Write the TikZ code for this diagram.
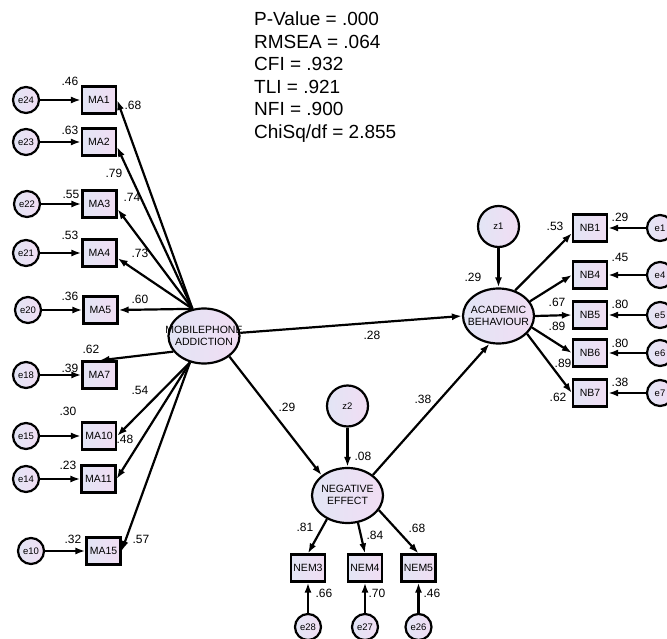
\documentclass[tikz,border=0pt]{standalone}
\usepackage{fontspec}
\setmainfont{Liberation Sans}
\usetikzlibrary{arrows.meta, shapes.geometric}
\definecolor{lavl}{RGB}{226,229,245}
\definecolor{lavr}{RGB}{241,221,243}
\newcommand{\twoline}[2]{\smash{\raisebox{-3.5pt}{\makebox[0pt]{%
  \begin{tabular}{@{}c@{}}#1\\#2\end{tabular}}}}}

\begin{document}
\begin{tikzpicture}[x=1pt, y=-1pt,
    obs/.style={draw, line width=2.2pt, minimum width=34pt, minimum height=27pt,
      inner sep=0pt, left color=lavl, right color=lavr,
      font=\fontsize{10.5}{12}\selectfont},
    err/.style={draw, line width=2.2pt, circle, minimum size=26pt, inner sep=0pt,
      left color=lavl, right color=lavr, font=\fontsize{9.5}{11}\selectfont},
    res/.style={err, minimum size=41pt},
    lat/.style={draw, line width=2.2pt, ellipse, minimum width=71pt,
      minimum height=55pt, inner sep=0pt, left color=lavl, right color=lavr,
      font=\fontsize{10.5}{12}\selectfont},
    num/.style={inner sep=0pt, font=\fontsize{12}{14}\selectfont},
    gof/.style={inner sep=0pt, align=left, font=\fontsize{19}{22.5}\selectfont},
    arr/.style={-{Latex[length=10pt, width=7pt]}, line width=2.2pt}]
  \useasboundingbox (0,0) rectangle (667,639);
  \node[gof, anchor=north west] (gof) at (254,12) {P-Value = .000\\RMSEA = .064\\
    CFI = .932\\TLI = .921\\NFI = .900\\ChiSq/df = 2.855};
  % latent variables
  \node[lat] (mpa) at (204,336) {\twoline{MOBILEPHONE}{ADDICTION}};
  \node[lat] (acb) at (498.5,316) {\twoline{ACADEMIC}{BEHAVIOUR}};
  \node[lat] (neg) at (347.5,495.5) {\twoline{NEGATIVE}{EFFECT}};
  \node[res] (z1) at (498.5,226.5) {z1};
  \node[res] (z2) at (347.5,406) {z2};
  % mobilephone addiction items
  \node[err] (e24) at (26,100) {e24};
  \node[err] (e23) at (26,142) {e23};
  \node[err] (e22) at (27,204) {e22};
  \node[err] (e21) at (26,253) {e21};
  \node[err] (e20) at (28,310) {e20};
  \node[err] (e18) at (26,375) {e18};
  \node[err] (e15) at (26,436) {e15};
  \node[err] (e14) at (26,479) {e14};
  \node[err] (e10) at (31,551) {e10};
  \node[obs] (ma1) at (99,100) {MA1};
  \node[obs] (ma2) at (99,142) {MA2};
  \node[obs] (ma3) at (99.5,204) {MA3};
  \node[obs] (ma4) at (99.5,253) {MA4};
  \node[obs] (ma5) at (100.5,310) {MA5};
  \node[obs] (ma7) at (99.5,375) {MA7};
  \node[obs] (ma10) at (99,436) {MA10};
  \node[obs] (ma11) at (98.5,479) {MA11};
  \node[obs] (ma15) at (103.5,551) {MA15};
  % academic behaviour items
  \node[obs] (nb1) at (590,228) {NB1};
  \node[obs] (nb4) at (590,275) {NB4};
  \node[obs] (nb5) at (590,315) {NB5};
  \node[obs] (nb6) at (590,353) {NB6};
  \node[obs] (nb7) at (590,393) {NB7};
  \node[err] (e1) at (660,228) {e1};
  \node[err] (e4) at (660,275) {e4};
  \node[err] (e5) at (660,315) {e5};
  \node[err] (e6) at (660,353) {e6};
  \node[err] (e7) at (660,393) {e7};
  % negative effect items
  \node[obs] (nem3) at (308,568) {NEM3};
  \node[obs] (nem4) at (365,568) {NEM4};
  \node[obs] (nem5) at (418.5,568) {NEM5};
  \node[err] (e28) at (308,627) {e28};
  \node[err] (e27) at (365,627) {e27};
  \node[err] (e26) at (418.5,627) {e26};
  % paths
  \draw[arr] (e24) -- (ma1);
  \draw[arr] (e23) -- (ma2);
  \draw[arr] (e22) -- (ma3);
  \draw[arr] (e21) -- (ma4);
  \draw[arr] (e20) -- (ma5);
  \draw[arr] (e18) -- (ma7);
  \draw[arr] (e15) -- (ma10);
  \draw[arr] (e14) -- (ma11);
  \draw[arr] (e10) -- (ma15);
  \draw[arr] (mpa.113) -- (ma1.east);
  \draw[arr] (mpa.113) -- (ma2.-15);
  \draw[arr] (mpa.113) -- (ma3.-16);
  \draw[arr] (mpa.113) -- (ma4.-16);
  \draw[arr] (mpa.113) -- (ma5.east);
  \draw[arr] (mpa.207) -- (ma7.north);
  \draw[arr] (mpa.242) -- (ma10.east);
  \draw[arr] (mpa.242) -- (ma11.east);
  \draw[arr] (mpa.242) -- (ma15.east);
  \draw[arr] (mpa.5) -- (acb.west);
  \draw[arr] (mpa.-39) -- (neg.142);
  \draw[arr] (neg.39) -- (acb.252);
  \draw[arr] (z1) -- (acb);
  \draw[arr] (z2) -- (neg);
  \draw[arr] (acb.57) -- (nb1.196);
  \draw[arr] (acb.25) -- (nb4.west);
  \draw[arr] (acb.east) -- (nb5.west);
  \draw[arr] (acb.-19) -- (nb6.west);
  \draw[arr] (acb.-32) -- (nb7.west);
  \draw[arr] (e1) -- (nb1);
  \draw[arr] (e4) -- (nb4);
  \draw[arr] (e5) -- (nb5);
  \draw[arr] (e6) -- (nb6);
  \draw[arr] (e7) -- (nb7);
  \draw[arr] (neg.229) -- (nem3.north);
  \draw[arr] (neg.291) -- (nem4.north);
  \draw[arr] (neg.-25) -- (nem5.north);
  \draw[arr] (e28) -- (nem3);
  \draw[arr] (e27) -- (nem4);
  \draw[arr] (e26) -- (nem5);
  % estimates
  \node[num] (r-ma1) at (70,81) {.46};
  \node[num] (r-ma2) at (70,130) {.63};
  \node[num] (r-ma3) at (71,194) {.55};
  \node[num] (r-ma4) at (70,235) {.53};
  \node[num] (r-ma5) at (70,296) {.36};
  \node[num] (r-ma7) at (70,368) {.39};
  \node[num] (r-ma10) at (68,411) {.30};
  \node[num] (r-ma11) at (68,465) {.23};
  \node[num] (r-ma15) at (73,539) {.32};
  \node[num] (w-ma1) at (133,105) {.68};
  \node[num] (w-ma2) at (114,173) {.79};
  \node[num] (w-ma3) at (132,197) {.74};
  \node[num] (w-ma4) at (140,253) {.73};
  \node[num] (w-ma5) at (140,299) {.60};
  \node[num] (w-ma7) at (91,349) {.62};
  \node[num] (w-ma10) at (140,390) {.54};
  \node[num] (w-ma11) at (125,439) {.48};
  \node[num] (w-ma15) at (141,539) {.57};
  \node[num] (w-ma) at (372,335) {.28};
  \node[num] (w-mn) at (287,407) {.29};
  \node[num] (w-na) at (423,399) {.38};
  \node[num] (r-neg) at (363,456) {.08};
  \node[num] (r-acb) at (473,277) {.29};
  \node[num] (w-nb1) at (555,226) {.53};
  \node[num] (w-nb4) at (557,302) {.67};
  \node[num] (w-nb5) at (557,326) {.89};
  \node[num] (w-nb6) at (563,363) {.89};
  \node[num] (w-nb7) at (558,397) {.62};
  \node[num] (r-nb1) at (620,217) {.29};
  \node[num] (r-nb4) at (620,257) {.45};
  \node[num] (r-nb5) at (620,304) {.80};
  \node[num] (r-nb6) at (620,343) {.80};
  \node[num] (r-nb7) at (620,382) {.38};
  \node[num] (w-nem3) at (305,527) {.81};
  \node[num] (w-nem4) at (375,535) {.84};
  \node[num] (w-nem5) at (417,528) {.68};
  \node[num] (r-nem3) at (324,593) {.66};
  \node[num] (r-nem4) at (377,593) {.70};
  \node[num] (r-nem5) at (432,593) {.46};
\end{tikzpicture}
\end{document}
